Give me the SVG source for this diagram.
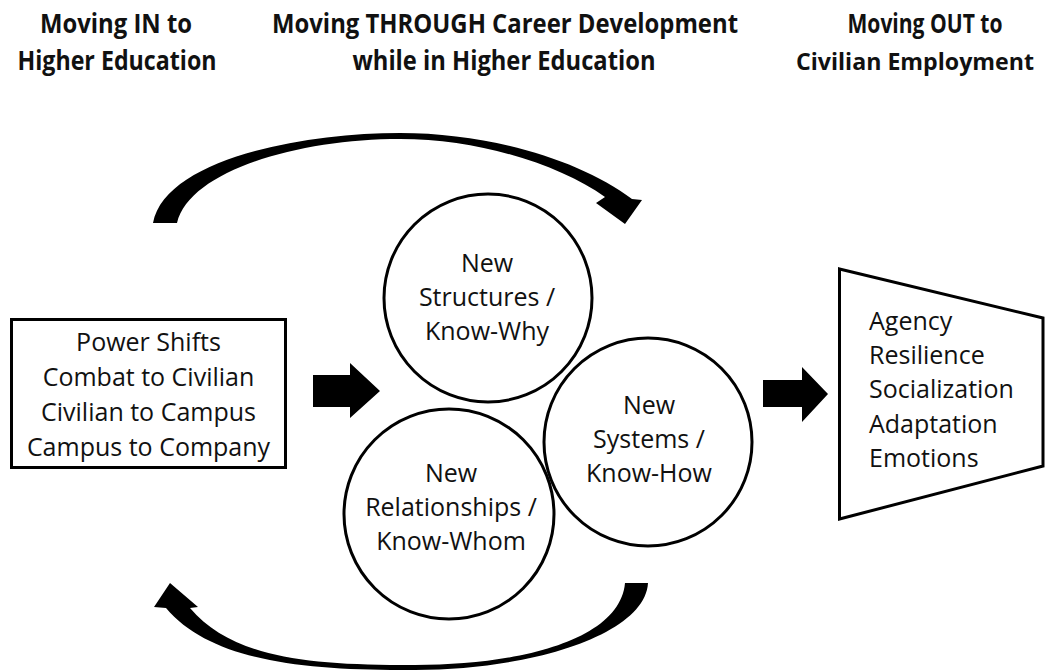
<svg xmlns="http://www.w3.org/2000/svg" width="1045" height="671" viewBox="0 0 1045 671">
  <style>
    .head { font-family: "Open Sans", "Liberation Sans", sans-serif; font-weight: 700; font-size: 26px; fill: #111; text-anchor: middle; }
    .body { font-family: "Open Sans", "Liberation Sans", sans-serif; font-size: 25px; fill: #111; }
    .mid { text-anchor: middle; }
    .shape { fill: #fff; stroke: #000; stroke-width: 3; }
    .solid { fill: #000; stroke: none; }
  </style>
  <rect width="1045" height="671" fill="#fff"/>

  <g id="headings">
    <text class="head" x="116" y="33" textLength="152" lengthAdjust="spacingAndGlyphs">Moving IN to</text>
    <text class="head" x="117" y="70" textLength="199" lengthAdjust="spacingAndGlyphs">Higher Education</text>
    <text class="head" x="505" y="33" textLength="466" lengthAdjust="spacingAndGlyphs">Moving THROUGH Career Development</text>
    <text class="head" x="504" y="70" textLength="303" lengthAdjust="spacingAndGlyphs">while in Higher Education</text>
    <text class="head" x="925" y="33" textLength="155" lengthAdjust="spacingAndGlyphs">Moving OUT to</text>
    <text class="head" x="915" y="70" style="font-size:23.4px" textLength="238" lengthAdjust="spacingAndGlyphs">Civilian Employment</text>
  </g>

  <g id="connectors">
    <path class="solid" d="M153,223 C165,160 300,133 400,133 C490,133 580,160 632,199 L642,200 L625,224 L596,203 L605,197 C560,165 480,139 400,139 C300,139 190,170 177,223 Z"/>
    <path class="solid" d="M648,583 C645,635 530,670 415,670 C300,671 210,660 166,608 L154,607 L170,583 L198,607 L190,608 C230,655 300,666 415,665 C520,665 620,640 625,583 Z"/>
    <polygon class="solid" points="313,375 350,375 350,363 380,391 350,418 350,407 313,407"/>
    <polygon class="solid" points="763,380 802,380 802,367 828,394 802,422 802,407 763,407"/>
  </g>

  <g id="node-power-shifts">
    <rect class="shape" x="11.5" y="319.5" width="274" height="148"/>
    <text class="body mid" x="148.5" y="351">Power Shifts</text>
    <text class="body mid" x="148.5" y="386">Combat to Civilian</text>
    <text class="body mid" x="148.5" y="421">Civilian to Campus</text>
    <text class="body mid" x="148.5" y="456">Campus to Company</text>
  </g>

  <g id="node-structures">
    <circle class="shape" cx="488" cy="298" r="104"/>
    <text class="body mid" x="487" y="272">New</text>
    <text class="body mid" x="487" y="306">Structures /</text>
    <text class="body mid" x="487" y="340">Know-Why</text>
  </g>

  <g id="node-relationships">
    <circle class="shape" cx="449" cy="514" r="105"/>
    <text class="body mid" x="451" y="482">New</text>
    <text class="body mid" x="451" y="516">Relationships /</text>
    <text class="body mid" x="451" y="550">Know-Whom</text>
  </g>

  <g id="node-systems">
    <circle class="shape" cx="648" cy="442" r="104"/>
    <text class="body mid" x="649" y="414">New</text>
    <text class="body mid" x="649" y="448">Systems /</text>
    <text class="body mid" x="649" y="482">Know-How</text>
  </g>

  <g id="node-outcomes">
    <polygon class="shape" points="839.5,269 1043,318 1043,466 839.5,519"/>
    <text class="body" x="869" y="330">Agency</text>
    <text class="body" x="869" y="364">Resilience</text>
    <text class="body" x="869" y="398">Socialization</text>
    <text class="body" x="869" y="433">Adaptation</text>
    <text class="body" x="869" y="467">Emotions</text>
  </g>
</svg>
